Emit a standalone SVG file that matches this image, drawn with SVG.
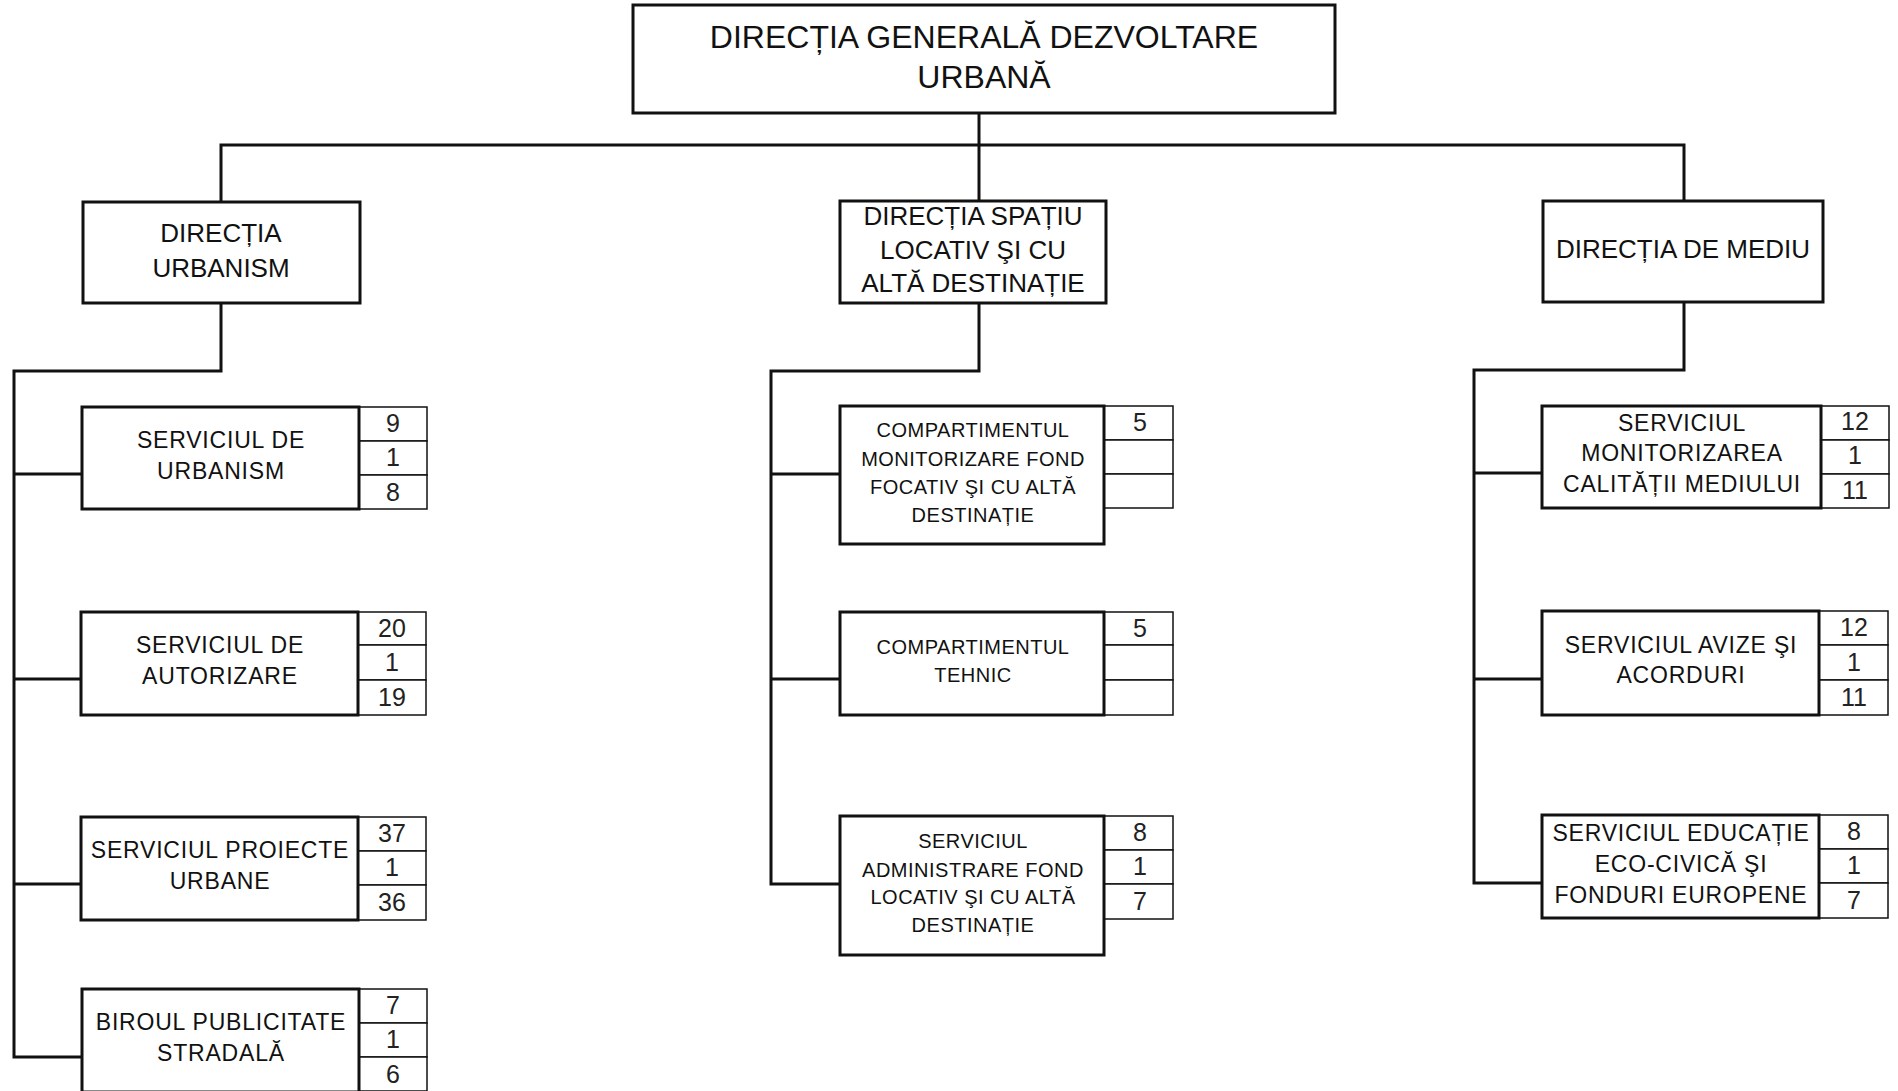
<svg xmlns="http://www.w3.org/2000/svg" width="1898" height="1091" viewBox="0 0 1898 1091">
<style>
.bg{fill:#fff}
.box{fill:#fff;stroke:#111;stroke-width:3}
.cell{fill:#fff;stroke:#111;stroke-width:1.5}
.con{fill:none;stroke:#111;stroke-width:3}
text{font-family:"Liberation Sans",Arial,sans-serif;fill:#111;text-anchor:middle}
.t0{font-size:32px}
.t1{font-size:26px}
.t2{font-size:23px;letter-spacing:0.8px}
.t3{font-size:20px;letter-spacing:0.5px}
.n{font-size:25px;fill:#222}
</style>
<rect class="bg" x="0" y="0" width="1898" height="1091"/>
<g id="connectors">
<polyline class="con" points="979,113 979,201"/>
<polyline class="con" points="221,202 221,145 1684,145 1684,201"/>
<polyline class="con" points="221,303 221,371 14,371 14,1057 82,1057"/>
<line class="con" x1="14" y1="474" x2="82" y2="474"/>
<line class="con" x1="14" y1="679" x2="82" y2="679"/>
<line class="con" x1="14" y1="884" x2="82" y2="884"/>
<polyline class="con" points="979,303 979,371 771,371 771,884 840,884"/>
<line class="con" x1="771" y1="474" x2="840" y2="474"/>
<line class="con" x1="771" y1="679" x2="840" y2="679"/>
<polyline class="con" points="1684,302 1684,370 1474,370 1474,883 1542,883"/>
<line class="con" x1="1474" y1="473" x2="1542" y2="473"/>
<line class="con" x1="1474" y1="679" x2="1542" y2="679"/>
</g>
<g id="dgdu">
<rect class="box" x="633" y="5" width="702" height="108"/>
<text class="t0" x="984" y="48">DIRECȚIA GENERALĂ DEZVOLTARE</text>
<text class="t0" x="984" y="88">URBANĂ</text>
</g>
<g id="dir-urbanism">
<rect class="box" x="83" y="202" width="277" height="101"/>
<text class="t1" x="221" y="242">DIRECȚIA</text>
<text class="t1" x="221" y="277">URBANISM</text>
</g>
<g id="dir-spatiu">
<rect class="box" x="840" y="201" width="266" height="102"/>
<text class="t1" x="973" y="225">DIRECȚIA SPAȚIU</text>
<text class="t1" x="973" y="259">LOCATIV ŞI CU</text>
<text class="t1" x="973" y="292">ALTĂ DESTINAȚIE</text>
</g>
<g id="dir-mediu">
<rect class="box" x="1543" y="201" width="280" height="101"/>
<text class="t1" x="1683" y="258">DIRECȚIA DE MEDIU</text>
</g>
<g id="s-urbanism">
<rect class="cell" x="359" y="407" width="68" height="34"/><rect class="cell" x="359" y="441" width="68" height="34"/><rect class="cell" x="359" y="475" width="68" height="34"/>
<rect class="box" x="82" y="407" width="277" height="102"/>
<text class="t2" x="221" y="448">SERVICIUL DE</text>
<text class="t2" x="221" y="479">URBANISM</text>
<text class="n" x="393" y="432">9</text><text class="n" x="393" y="466">1</text><text class="n" x="393" y="501">8</text>
</g>
<g id="s-autorizare">
<rect class="cell" x="358" y="612" width="68" height="33"/><rect class="cell" x="358" y="645" width="68" height="35"/><rect class="cell" x="358" y="680" width="68" height="35"/>
<rect class="box" x="81" y="612" width="277" height="103"/>
<text class="t2" x="220" y="653">SERVICIUL DE</text>
<text class="t2" x="220" y="684">AUTORIZARE</text>
<text class="n" x="392" y="637">20</text><text class="n" x="392" y="671">1</text><text class="n" x="392" y="706">19</text>
</g>
<g id="s-proiecte">
<rect class="cell" x="358" y="817" width="68" height="34"/><rect class="cell" x="358" y="851" width="68" height="34"/><rect class="cell" x="358" y="885" width="68" height="35"/>
<rect class="box" x="81" y="817" width="277" height="103"/>
<text class="t2" x="220" y="858">SERVICIUL PROIECTE</text>
<text class="t2" x="220" y="889">URBANE</text>
<text class="n" x="392" y="842">37</text><text class="n" x="392" y="876">1</text><text class="n" x="392" y="911">36</text>
</g>
<g id="b-publicitate">
<rect class="cell" x="359" y="989" width="68" height="34"/><rect class="cell" x="359" y="1023" width="68" height="34"/><rect class="cell" x="359" y="1057" width="68" height="34"/>
<rect class="box" x="82" y="989" width="277" height="103"/>
<text class="t2" x="221" y="1030">BIROUL PUBLICITATE</text>
<text class="t2" x="221" y="1061">STRADALĂ</text>
<text class="n" x="393" y="1014">7</text><text class="n" x="393" y="1048">1</text><text class="n" x="393" y="1083">6</text>
</g>
<g id="c-monitorizare">
<rect class="cell" x="1104" y="406" width="69" height="34"/><rect class="cell" x="1104" y="440" width="69" height="34"/><rect class="cell" x="1104" y="474" width="69" height="34"/>
<rect class="box" x="840" y="406" width="264" height="138"/>
<text class="t3" x="973" y="437">COMPARTIMENTUL</text>
<text class="t3" x="973" y="466">MONITORIZARE FOND</text>
<text class="t3" x="973" y="494">FOCATIV ŞI CU ALTĂ</text>
<text class="t3" x="973" y="522">DESTINAȚIE</text>
<text class="n" x="1140" y="431">5</text>
</g>
<g id="c-tehnic">
<rect class="cell" x="1104" y="612" width="69" height="33"/><rect class="cell" x="1104" y="645" width="69" height="35"/><rect class="cell" x="1104" y="680" width="69" height="35"/>
<rect class="box" x="840" y="612" width="264" height="103"/>
<text class="t3" x="973" y="654">COMPARTIMENTUL</text>
<text class="t3" x="973" y="682">TEHNIC</text>
<text class="n" x="1140" y="637">5</text>
</g>
<g id="s-administrare">
<rect class="cell" x="1104" y="816" width="69" height="34"/><rect class="cell" x="1104" y="850" width="69" height="34"/><rect class="cell" x="1104" y="884" width="69" height="35"/>
<rect class="box" x="840" y="816" width="264" height="139"/>
<text class="t3" x="973" y="848">SERVICIUL</text>
<text class="t3" x="973" y="877">ADMINISTRARE FOND</text>
<text class="t3" x="973" y="904">LOCATIV ŞI CU ALTĂ</text>
<text class="t3" x="973" y="932">DESTINAȚIE</text>
<text class="n" x="1140" y="841">8</text><text class="n" x="1140" y="875">1</text><text class="n" x="1140" y="910">7</text>
</g>
<g id="s-monitorizarea">
<rect class="cell" x="1821" y="406" width="68" height="34"/><rect class="cell" x="1821" y="440" width="68" height="34"/><rect class="cell" x="1821" y="474" width="68" height="34"/>
<rect class="box" x="1542" y="406" width="279" height="102"/>
<text class="t2" x="1682" y="431">SERVICIUL</text>
<text class="t2" x="1682" y="461">MONITORIZAREA</text>
<text class="t2" x="1682" y="492">CALITĂȚII MEDIULUI</text>
<text class="n" x="1855" y="430">12</text><text class="n" x="1855" y="464">1</text><text class="n" x="1855" y="499">11</text>
</g>
<g id="s-avize">
<rect class="cell" x="1819" y="611" width="69" height="34"/><rect class="cell" x="1819" y="645" width="69" height="35"/><rect class="cell" x="1819" y="680" width="69" height="35"/>
<rect class="box" x="1542" y="611" width="277" height="104"/>
<text class="t2" x="1681" y="653">SERVICIUL AVIZE ŞI</text>
<text class="t2" x="1681" y="683">ACORDURI</text>
<text class="n" x="1854" y="636">12</text><text class="n" x="1854" y="671">1</text><text class="n" x="1854" y="706">11</text>
</g>
<g id="s-educatie">
<rect class="cell" x="1819" y="815" width="69" height="34"/><rect class="cell" x="1819" y="849" width="69" height="34"/><rect class="cell" x="1819" y="883" width="69" height="35"/>
<rect class="box" x="1542" y="815" width="277" height="103"/>
<text class="t2" x="1681" y="841">SERVICIUL EDUCAȚIE</text>
<text class="t2" x="1681" y="872">ECO-CIVICĂ ŞI</text>
<text class="t2" x="1681" y="903">FONDURI EUROPENE</text>
<text class="n" x="1854" y="840">8</text><text class="n" x="1854" y="874">1</text><text class="n" x="1854" y="909">7</text>
</g>
</svg>
